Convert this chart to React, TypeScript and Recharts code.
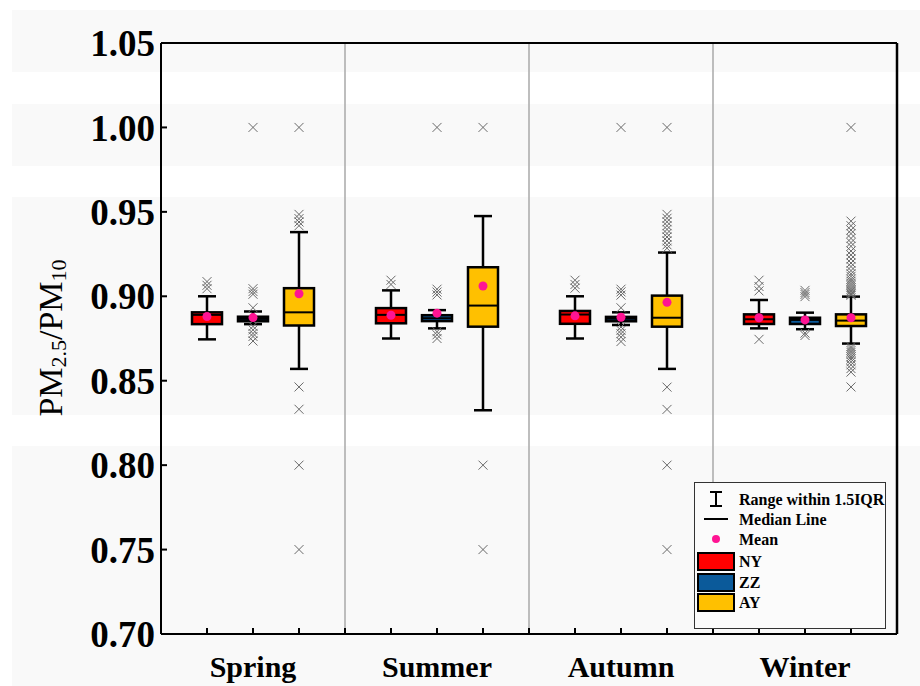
import { Bar, ComposedChart, ReferenceLine, Scatter, XAxis, YAxis } from 'recharts';

const seasons = ['Spring', 'Summer', 'Autumn', 'Winter'];
const sites = ['NY', 'ZZ', 'AY'];
const siteColors = ['#ff0000', '#0b5a9a', '#ffc000'];
const meanColor = '#ff1493';

// one entry per box, in order: Spring NY/ZZ/AY, Summer NY/ZZ/AY, Autumn ..., Winter ...
const whiskerLow = [0.8745, 0.8835, 0.857, 0.875, 0.881, 0.8325, 0.875, 0.883, 0.857, 0.881, 0.8805, 0.872];
const q1 = [0.8835, 0.8852, 0.8827, 0.884, 0.8853, 0.882, 0.8837, 0.8852, 0.882, 0.8836, 0.8836, 0.8824];
const median = [0.889, 0.8866, 0.8905, 0.889, 0.887, 0.8945, 0.8892, 0.8867, 0.8873, 0.8864, 0.886, 0.8856];
const q3 = [0.8905, 0.8879, 0.9048, 0.893, 0.8888, 0.9172, 0.8913, 0.8878, 0.9004, 0.8893, 0.8873, 0.8893];
const whiskerHigh = [0.9, 0.891, 0.938, 0.9035, 0.8918, 0.9475, 0.9, 0.8905, 0.9259, 0.8978, 0.8903, 0.8998];
const means = [0.888, 0.8874, 0.9015, 0.8888, 0.89, 0.9061, 0.8884, 0.8876, 0.8964, 0.8873, 0.886, 0.8873];

const outliers = [
  [0.9087, 0.9065, 0.9045],
  [1.0, 0.9045, 0.9028, 0.9012, 0.8932, 0.8822, 0.8801, 0.878, 0.8762, 0.8735],
  [1.0, 0.9485, 0.946, 0.944, 0.9418, 0.8463, 0.8331, 0.8, 0.75],
  [0.9095, 0.907],
  [1.0, 0.9042, 0.9025, 0.9008, 0.879, 0.8772, 0.875],
  [1.0, 0.8, 0.75],
  [0.9095, 0.907, 0.9048],
  [1.0, 0.9042, 0.9026, 0.9007, 0.8932, 0.8818, 0.8798, 0.8779, 0.8758, 0.8732],
  [1.0, 0.9485, 0.9462, 0.9441, 0.9418, 0.9396, 0.9372, 0.9351, 0.9328, 0.9305, 0.9285, 0.8462, 0.833, 0.8, 0.75],
  [0.9095, 0.9058, 0.9032, 0.8745],
  [0.9035, 0.9022, 0.9011, 0.8998, 0.8782, 0.8768],
  [
    1.0, 0.9445, 0.9418, 0.9392, 0.9371, 0.9343, 0.9318, 0.9296, 0.9268, 0.9245, 0.9221, 0.9197, 0.9176,
    0.9152, 0.9133, 0.9118, 0.9101, 0.9089, 0.9076, 0.9064, 0.9052, 0.9041, 0.9032, 0.9022, 0.9013, 0.9006,
    0.8702, 0.8691, 0.8679, 0.8668, 0.8655, 0.8641, 0.8628, 0.8612, 0.8594, 0.8572, 0.8551, 0.8463,
  ],
];

const yTicks = [0.7, 0.75, 0.8, 0.85, 0.9, 0.95, 1.0, 1.05];
const yMinorTicks = [0.725, 0.775, 0.825, 0.875, 0.925, 0.975, 1.025];
const xTicks = [1, 2, 3, 4, 5, 6, 7, 8, 9, 10, 11, 12, 13, 14, 15];
const dividers = [4, 8, 12];

const boxes = whiskerLow.map((lo, i) => ({
  x: Math.floor(i / 3) * 4 + (i % 3) + 1,
  site: i % 3,
  lo,
  q1: q1[i],
  median: median[i],
  q3: q3[i],
  hi: whiskerHigh[i],
  mean: means[i],
}));

const outlierPoints = outliers.flatMap((vals, i) => vals.map((y) => ({ x: boxes[i].x, y })));

const serif = "'Times New Roman', 'Liberation Serif', serif";

function BoxShape(props: any) {
  const { x, y, width, height, payload } = props;
  const top = Math.min(y, y + height);
  const bottom = Math.max(y, y + height);
  const k = (bottom - top) / (payload.hi - payload.lo);
  const py = (v: number) => top + (payload.hi - v) * k;
  const cx = x + width / 2;
  const cap = 9;
  return (
    <g>
      <line x1={cx} x2={cx} y1={top} y2={bottom} stroke="#000" strokeWidth={2.5} />
      <line x1={cx - cap} x2={cx + cap} y1={top} y2={top} stroke="#000" strokeWidth={2.5} />
      <line x1={cx - cap} x2={cx + cap} y1={bottom} y2={bottom} stroke="#000" strokeWidth={2.5} />
      <rect
        x={x}
        y={py(payload.q3)}
        width={width}
        height={py(payload.q1) - py(payload.q3)}
        fill={siteColors[payload.site]}
        stroke="#000"
        strokeWidth={2.5}
      />
      <line x1={x} x2={x + width} y1={py(payload.median)} y2={py(payload.median)} stroke="#000" strokeWidth={2} />
    </g>
  );
}

function Cross(props: any) {
  const { cx, cy } = props;
  const s = 4.5;
  return (
    <g stroke="#6a6a6a" strokeWidth={1}>
      <line x1={cx - s} y1={cy - s} x2={cx + s} y2={cy + s} />
      <line x1={cx - s} y1={cy + s} x2={cx + s} y2={cy - s} />
    </g>
  );
}

function MeanDot(props: any) {
  return <circle cx={props.cx} cy={props.cy} r={4.5} fill={meanColor} />;
}

function YTitle() {
  const cx = 50;
  const cy = 338;
  return (
    <text
      x={cx}
      y={cy}
      transform={`rotate(-90 ${cx} ${cy})`}
      textAnchor="middle"
      dominantBaseline="central"
      fontFamily={serif}
      fontSize={34}
      fill="#000"
    >
      <tspan>PM</tspan>
      <tspan fontSize={22} dy={8}>2.5</tspan>
      <tspan dy={-8}>/PM</tspan>
      <tspan fontSize={22} dy={8}>10</tspan>
    </text>
  );
}

const bands = [
  [10, 72],
  [104, 166],
  [197, 415],
  [446, 686],
];

function LegendBox() {
  const rowText = ['Range within 1.5IQR', 'Median Line', 'Mean', ...sites];
  const rowY = [16, 36, 56, 78, 99, 119];
  return (
    <div
      style={{
        position: 'absolute',
        left: 694,
        top: 482,
        width: 190,
        height: 145,
        border: '1px solid #333',
        background: '#fbfbfb',
      }}
    >
      <svg width={190} height={145} style={{ position: 'absolute', left: 0, top: 0 }}>
        <g stroke="#000" strokeWidth={2}>
          <line x1={21} x2={21} y1={rowY[0] - 7} y2={rowY[0] + 7} />
          <line x1={15} x2={27} y1={rowY[0] - 7} y2={rowY[0] - 7} />
          <line x1={15} x2={27} y1={rowY[0] + 7} y2={rowY[0] + 7} />
          <line x1={9} x2={33} y1={rowY[1]} y2={rowY[1]} />
        </g>
        <circle cx={21} cy={rowY[2]} r={4} fill={meanColor} />
        {siteColors.map((c, i) => (
          <rect key={c} x={3} y={rowY[3 + i] - 8} width={36} height={17} fill={c} stroke="#000" strokeWidth={2} />
        ))}
        {rowText.map((t, i) => (
          <text key={t} x={44} y={rowY[i]} dominantBaseline="central" fontFamily={serif} fontWeight="bold" fontSize={16}>
            {t}
          </text>
        ))}
      </svg>
    </div>
  );
}

export default function App() {
  return (
    <div style={{ position: 'absolute', left: 0, top: 0, width: 920, height: 686, background: '#fff' }}>
      {bands.map(([a, b]) => (
        <div key={a} style={{ position: 'absolute', left: 12, top: a, width: 908, height: b - a, background: '#f9f9f9' }} />
      ))}
      <div style={{ position: 'absolute', left: 0, top: 0 }}>
        <ComposedChart width={920} height={686} data={boxes} margin={{ top: 0, right: 0, bottom: 0, left: 0 }}>
          <XAxis
            dataKey="x"
            type="number"
            domain={[0, 16]}
            ticks={xTicks}
            interval={0}
            height={52}
            tickSize={-6}
            tickMargin={28}
            tickFormatter={(v: number) => (v % 4 === 2 ? seasons[(v - 2) / 4] : '')}
            tick={{ fontFamily: serif, fontSize: 30, fontWeight: 'bold', fill: '#000' }}
            axisLine={{ stroke: '#000', strokeWidth: 2 }}
            tickLine={{ stroke: '#000', strokeWidth: 2 }}
          />
          <XAxis
            xAxisId="top"
            orientation="top"
            dataKey="x"
            type="number"
            domain={[0, 16]}
            ticks={xTicks}
            interval={0}
            height={43}
            tickSize={-5}
            tick={false}
            axisLine={{ stroke: '#000', strokeWidth: 2 }}
            tickLine={{ stroke: '#000', strokeWidth: 2 }}
          />
          <YAxis
            type="number"
            domain={[0.7, 1.05]}
            allowDataOverflow
            ticks={yTicks}
            interval={0}
            width={161}
            tickSize={-6}
            tickMargin={12}
            tickFormatter={(v: number) => v.toFixed(2)}
            tick={{ fontFamily: serif, fontSize: 37, fontWeight: 'bold', fill: '#000' }}
            axisLine={{ stroke: '#000', strokeWidth: 2 }}
            tickLine={{ stroke: '#000', strokeWidth: 2 }}
            label={{ content: YTitle }}
          />
          <YAxis
            yAxisId="leftMinor"
            orientation="left"
            mirror
            type="number"
            domain={[0.7, 1.05]}
            ticks={yMinorTicks}
            interval={0}
            width={4}
            tickSize={3}
            tick={false}
            axisLine={false}
            tickLine={{ stroke: '#000', strokeWidth: 2 }}
          />
          <YAxis
            yAxisId="right"
            orientation="right"
            type="number"
            domain={[0.7, 1.05]}
            ticks={yTicks}
            interval={0}
            width={23}
            tickSize={-5}
            tick={false}
            axisLine={{ stroke: '#000', strokeWidth: 2.5 }}
            tickLine={{ stroke: '#000', strokeWidth: 2 }}
          />
          <YAxis
            yAxisId="rightMinor"
            orientation="right"
            mirror
            type="number"
            domain={[0.7, 1.05]}
            ticks={yMinorTicks}
            interval={0}
            width={4}
            tickSize={3}
            tick={false}
            axisLine={false}
            tickLine={{ stroke: '#000', strokeWidth: 2 }}
          />
          {dividers.map((d) => (
            <ReferenceLine key={d} x={d} stroke="#a8a8a8" strokeWidth={1.5} />
          ))}
          <Bar
            dataKey={(d: any) => [d.lo, d.hi]}
            barSize={30}
            shape={BoxShape}
            isAnimationActive={false}
          />
          <Scatter data={outlierPoints} dataKey="y" shape={Cross} isAnimationActive={false} />
          <Scatter dataKey="mean" shape={MeanDot} isAnimationActive={false} />
        </ComposedChart>
      </div>
      <LegendBox />
    </div>
  );
}
